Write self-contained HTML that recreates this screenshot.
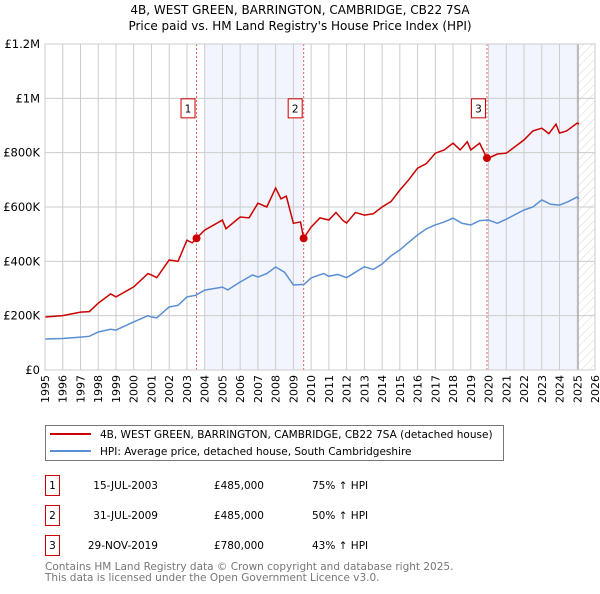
<!DOCTYPE html>
<html><head><meta charset="utf-8"><style>
body{margin:0;background:#fff;font-family:"DejaVu Sans","Liberation Sans",sans-serif}
svg text{font-family:"DejaVu Sans","Liberation Sans",sans-serif}
</style></head><body>
<svg id="c" width="600" height="590" xmlns="http://www.w3.org/2000/svg">
<defs><pattern id="hatch" width="6" height="6" patternUnits="userSpaceOnUse" patternTransform="rotate(45)"><line x1="0" y1="0" x2="0" y2="6" stroke="#ccc" stroke-width="0.8"/></pattern></defs>
<text x="300" y="14" text-anchor="middle" font-size="12">4B, WEST GREEN, BARRINGTON, CAMBRIDGE, CB22 7SA</text>
<text x="300" y="30" text-anchor="middle" font-size="12">Price paid vs. HM Land Registry's House Price Index (HPI)</text>
<g id="plot"></g>
<g>
<rect x="45.5" y="425.5" width="458" height="35" fill="#fff" stroke="#777"/>
<line x1="50" y1="434" x2="91" y2="434" stroke="#cc0000" stroke-width="2"/>
<text x="100" y="438" font-size="10.5">4B, WEST GREEN, BARRINGTON, CAMBRIDGE, CB22 7SA (detached house)</text>
<line x1="50" y1="451" x2="91" y2="451" stroke="#5b8fd4" stroke-width="2"/>
<text x="100" y="455" font-size="10.5">HPI: Average price, detached house, South Cambridgeshire</text>
</g>
<g font-size="10.5">
<rect x="45.5" y="475.5" width="14" height="20" fill="#fff" stroke="#cc0000"/><text x="52.5" y="489" text-anchor="middle">1</text>
<text x="158" y="489" text-anchor="end">15-JUL-2003</text><text x="264" y="489" text-anchor="end">£485,000</text><text x="312" y="489">75% ↑ HPI</text>
<rect x="45.5" y="505.5" width="14" height="20" fill="#fff" stroke="#cc0000"/><text x="52.5" y="519" text-anchor="middle">2</text>
<text x="158" y="519" text-anchor="end">31-JUL-2009</text><text x="264" y="519" text-anchor="end">£485,000</text><text x="312" y="519">50% ↑ HPI</text>
<rect x="45.5" y="535.5" width="14" height="20" fill="#fff" stroke="#cc0000"/><text x="52.5" y="549" text-anchor="middle">3</text>
<text x="158" y="549" text-anchor="end">29-NOV-2019</text><text x="264" y="549" text-anchor="end">£780,000</text><text x="312" y="549">43% ↑ HPI</text>
</g>
<text x="45" y="570" font-size="10.5" fill="#777">Contains HM Land Registry data © Crown copyright and database right 2025.</text>
<text x="45" y="581" font-size="10.5" fill="#777">This data is licensed under the Open Government Licence v3.0.</text>
</svg>
<script>
const yTicks=[0,200000,400000,600000,800000,1000000,1200000];
const yTickLabels=["£0","£200K","£400K","£600K","£800K","£1M","£1.2M"];
const years=[1995,1996,1997,1998,1999,2000,2001,2002,2003,2004,2005,2006,2007,2008,2009,2010,2011,2012,2013,2014,2015,2016,2017,2018,2019,2020,2021,2022,2023,2024,2025,2026];
const hpiT=[1995,1996,1997,1997.5,1998,1998.7,1999,2000,2000.8,2001,2001.3,2002,2002.5,2003,2003.5,2004,2005,2005.3,2006,2006.7,2007,2007.5,2008,2008.5,2009,2009.6,2010,2010.7,2011,2011.5,2012,2012.5,2013,2013.5,2014,2014.5,2015,2015.5,2016,2016.5,2017,2017.5,2018,2018.5,2019,2019.5,2020,2020.5,2021,2022,2022.5,2023,2023.5,2024,2024.5,2025,2025.1];
const hpiV=[114000,116000,121000,124000,140000,150000,147000,177000,200000,195000,192000,232000,238000,269000,275000,294000,305000,295000,324000,350000,342000,355000,379000,360000,313000,315000,339000,355000,345000,352000,340000,360000,380000,370000,390000,420000,442000,470000,497000,520000,534000,545000,559000,540000,534000,550000,552000,540000,555000,589000,600000,626000,610000,607000,620000,637000,630000];
const priceT=[1995,1996,1997,1997.5,1998,1998.7,1999,2000,2000.8,2001,2001.3,2002,2002.5,2003,2003.3,2003.54,2004,2005,2005.2,2006,2006.5,2007,2007.5,2008,2008.3,2008.6,2009,2009.4,2009.58,2010,2010.5,2011,2011.4,2011.8,2012,2012.5,2013,2013.5,2014,2014.5,2015,2015.5,2016,2016.5,2017,2017.5,2018,2018.4,2018.8,2019,2019.5,2019.91,2020,2020.5,2021,2022,2022.5,2023,2023.4,2023.8,2024,2024.4,2025,2025.1];
const priceV=[195000,200000,213000,215000,246000,280000,269000,306000,355000,350000,340000,405000,400000,478000,468000,485000,515000,552000,520000,563000,560000,614000,600000,670000,630000,640000,540000,545000,485000,526000,560000,552000,580000,550000,541000,580000,570000,575000,600000,620000,662000,700000,743000,760000,798000,810000,835000,810000,840000,810000,835000,780000,780000,795000,798000,847000,880000,890000,870000,905000,872000,880000,909000,905000];
const sales=[{t:2003.54,v:485000,n:"1"},{t:2009.58,v:485000,n:"2"},{t:2019.91,v:780000,n:"3"}];
const L=45,R=595,T=44,B=370,X0=1995,X1=2026;
const X=t=>L+(t-X0)/(X1-X0)*(R-L), Y=v=>B-v/1200000*(B-T);
const ns="http://www.w3.org/2000/svg", g=document.getElementById('plot');
function mk(tag,a,p){const e=document.createElementNS(ns,tag);for(const k in a)e.setAttribute(k,a[k]);(p||g).appendChild(e);return e;}
let e;
e=mk('rect',{x:X(2004),y:T,width:X(2009.58)-X(2004),height:B-T,fill:'#f2f5fd'});

e=mk('rect',{x:X(2019.97),y:T,width:X(2025.05)-X(2019.97),height:B-T,fill:'#f2f5fd'});

e=mk('rect',{x:X(2025.05),y:T,width:R-X(2025.05),height:B-T,fill:'url(#hatch)'});

years.forEach(y=>{const x=X(y);
 e=mk('line',{x1:x,y1:T,x2:x,y2:B,stroke:'#ccc','stroke-width':1});
 
 e=mk('text',{x:0,y:0,'font-size':11,'text-anchor':'end',transform:`translate(${x+4},${B+5}) rotate(-90)`});e.textContent=y;
 
});
yTicks.forEach((v,i)=>{const y=Y(v);
 e=mk('line',{x1:L,y1:y,x2:R,y2:y,stroke:'#ccc','stroke-width':1});
 
 e=mk('text',{x:L-5,y:y+4,'font-size':11.5,'text-anchor':'end'});e.textContent=yTickLabels[i];
 
});
e=mk('line',{x1:X(2025.05),y1:T,x2:X(2025.05),y2:B,stroke:'#999','stroke-width':1});

sales.forEach(s=>{
 e=mk('line',{x1:X(s.t),y1:T,x2:X(s.t),y2:B,stroke:'#e06060','stroke-width':1,'stroke-dasharray':'2,2'});
 
});
e=mk('polyline',{points:hpiT.map((t,i)=>X(t)+','+Y(hpiV[i])).join(' '),fill:'none',stroke:'#5b8fd4','stroke-width':1.5});

e=mk('polyline',{points:priceT.map((t,i)=>X(t)+','+Y(priceV[i])).join(' '),fill:'none',stroke:'#cc0000','stroke-width':1.5});

sales.forEach(s=>{
 e=mk('circle',{cx:X(s.t),cy:Y(s.v),r:4,fill:'#cc0000'});
 
 e=mk('rect',{x:X(s.t)-15.5,y:Y(1000000)+0.5,width:14,height:19,fill:'#fff',stroke:'#cc0000'});
 
 e=mk('text',{x:X(s.t)-8.5,y:Y(1000000)+14,'font-size':10.5,'text-anchor':'middle'});e.textContent=s.n;
 
});
e=mk('rect',{x:L,y:T,width:R-L,height:B-T,fill:'none',stroke:'#ccc'});

</script>
</body></html>
